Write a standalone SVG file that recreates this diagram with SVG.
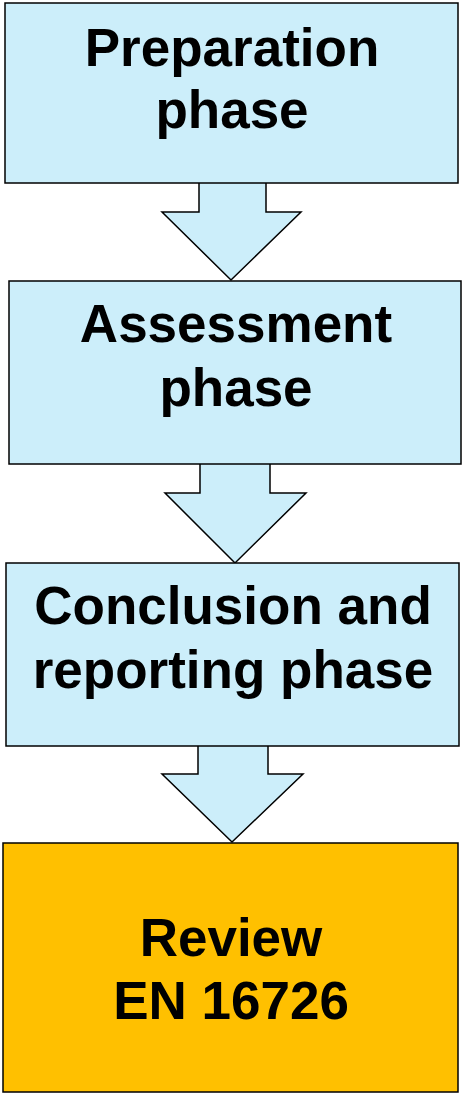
<svg xmlns="http://www.w3.org/2000/svg" width="462" height="1095" viewBox="0 0 462 1095">
<style>
.box{fill:#CCEEFA;stroke:#000;stroke-width:1.5}
.rev{fill:#FFC000;stroke:#000;stroke-width:1.5}
.arr{fill:#CCEEFA;stroke:#000;stroke-width:1.5;stroke-linejoin:miter}
.t{font-family:"Liberation Sans",Arial,sans-serif;font-weight:bold;font-size:53px;fill:#000;text-anchor:middle}
</style>
<rect width="462" height="1095" fill="#fff"/>
<g id="connectors">
<polygon class="arr" points="199,182 266,182 266,212 301,212 231,280 162,212 199,212"/>
<polygon class="arr" points="200,463 270,463 270,493 306,493 235,563 165,493 200,493"/>
<polygon class="arr" points="198,745 268,745 268,774 303,774 232,842 162,774 198,774"/>
</g>
<g id="preparation">
<rect class="box" x="5" y="3" width="453" height="180"/>
<text class="t" x="232" y="66">Preparation</text>
<text class="t" x="232" y="128">phase</text>
</g>
<g id="assessment">
<rect class="box" x="9" y="281" width="452" height="183"/>
<text class="t" x="236" y="342">Assessment</text>
<text class="t" x="236" y="406">phase</text>
</g>
<g id="conclusion">
<rect class="box" x="6" y="563" width="453" height="183"/>
<text class="t" x="233" y="624">Conclusion and</text>
<text class="t" x="233" y="688">reporting phase</text>
</g>
<g id="review">
<rect class="rev" x="3" y="843" width="455" height="249"/>
<text class="t" x="231" y="956">Review</text>
<text class="t" x="231" y="1019">EN 16726</text>
</g>
</svg>
